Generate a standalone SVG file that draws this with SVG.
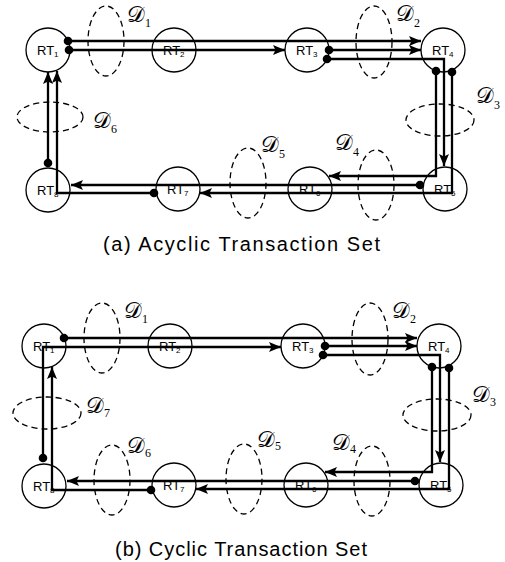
<svg xmlns="http://www.w3.org/2000/svg" width="505" height="562" viewBox="0 0 505 562">
<style>
  .bg { fill: #ffffff; }
  .node circle { fill: #ffffff; stroke: #000; stroke-width: 1.3; }
  .node text { font-family: "Liberation Sans", Arial, sans-serif; font-size: 13px; fill: #000; }
  .node text tspan.sub { font-size: 8px; }
  .dom { fill: none; stroke: #000; stroke-width: 1.3; stroke-dasharray: 6 4; }
  .dl { font-family: "DejaVu Serif", "DejaVu Sans", serif; font-size: 22px; fill: #000; }
  .dl tspan.sub { font-family: "Liberation Serif", "Times New Roman", serif; font-size: 12px; }
  .conn path { fill: none; stroke: #000; stroke-width: 2.3; marker-end: url(#arr); }
  .conn circle { fill: #000; }
  .cap { font-family: "Liberation Sans", Arial, sans-serif; font-size: 20px; fill: #000; }
</style>
<defs>
  <marker id="arr" markerUnits="userSpaceOnUse" markerWidth="13" markerHeight="11" refX="12" refY="5" orient="auto">
    <path d="M0,0 L12,5 L0,10 L2.5,5 z" fill="#000"/>
  </marker>
</defs>
<rect class="bg" x="0" y="0" width="505" height="562"/>

<!-- ===== (a) Acyclic ===== -->
<g id="a-domains">
  <ellipse class="dom" cx="106" cy="41" rx="18" ry="35"/>
  <ellipse class="dom" cx="374" cy="42" rx="18" ry="36"/>
  <ellipse class="dom" cx="440" cy="120" rx="34" ry="16"/>
  <ellipse class="dom" cx="376" cy="185" rx="18" ry="35"/>
  <ellipse class="dom" cx="248" cy="183" rx="18" ry="35"/>
  <ellipse class="dom" cx="50" cy="117" rx="33" ry="15"/>
  <text class="dl" x="127" y="22">𝒟<tspan class="sub" dy="5">1</tspan></text>
  <text class="dl" x="396" y="21">𝒟<tspan class="sub" dy="6">2</tspan></text>
  <text class="dl" x="476" y="103">𝒟<tspan class="sub" dy="6">3</tspan></text>
  <text class="dl" x="335" y="150">𝒟<tspan class="sub" dy="6">4</tspan></text>
  <text class="dl" x="261" y="152">𝒟<tspan class="sub" dy="6">5</tspan></text>
  <text class="dl" x="93" y="128">𝒟<tspan class="sub" dy="5">6</tspan></text>
</g>
<g id="a-RT1" class="node"><circle cx="48" cy="50" r="22"/><text x="37" y="55">RT<tspan class="sub" dy="2">1</tspan></text></g>
<g id="a-RT2" class="node"><circle cx="174" cy="50" r="22"/><text x="163" y="55">RT<tspan class="sub" dy="2">2</tspan></text></g>
<g id="a-RT3" class="node"><circle cx="307" cy="50" r="22"/><text x="296" y="55">RT<tspan class="sub" dy="2">3</tspan></text></g>
<g id="a-RT4" class="node"><circle cx="443" cy="50" r="22"/><text x="432" y="55">RT<tspan class="sub" dy="2">4</tspan></text></g>
<g id="a-RT5" class="node"><circle cx="445" cy="189" r="22"/><text x="434" y="194">RT<tspan class="sub" dy="2">5</tspan></text></g>
<g id="a-RT6" class="node"><circle cx="310" cy="189" r="22"/><text x="299" y="194">RT<tspan class="sub" dy="2">6</tspan></text></g>
<g id="a-RT7" class="node"><circle cx="178" cy="189" r="22"/><text x="167" y="194">RT<tspan class="sub" dy="2">7</tspan></text></g>
<g id="a-RT8" class="node"><circle cx="48" cy="190" r="22"/><text x="37" y="195">RT<tspan class="sub" dy="2">8</tspan></text></g>
<g id="a-connectors" class="conn">
  <path d="M68,41 H421"/>
  <path d="M69,50 H285"/>
  <path d="M329,50 H421"/>
  <path d="M327,59 H444 V166"/>
  <path d="M436,71 V176 H329"/>
  <path d="M452,71 V193 H200"/>
  <path d="M420,185 H71"/>
  <path d="M154,193 H57 V71"/>
  <path d="M48,163 V72"/>
  <circle cx="68" cy="41" r="4.3"/>
  <circle cx="69" cy="50" r="4.3"/>
  <circle cx="329" cy="50" r="4.3"/>
  <circle cx="327" cy="59" r="4.3"/>
  <circle cx="436" cy="71" r="4.3"/>
  <circle cx="452" cy="72" r="4.3"/>
  <circle cx="420" cy="185" r="4.3"/>
  <circle cx="154" cy="193" r="4.3"/>
  <circle cx="48" cy="163" r="4.3"/>
</g>
<text class="cap" x="103" y="251" textLength="277" lengthAdjust="spacing">(a) Acyclic Transaction Set</text>

<!-- ===== (b) Cyclic ===== -->
<g id="b-domains">
  <ellipse class="dom" cx="102" cy="338" rx="18" ry="35"/>
  <ellipse class="dom" cx="370" cy="339" rx="18" ry="36"/>
  <ellipse class="dom" cx="437" cy="415" rx="34" ry="16"/>
  <ellipse class="dom" cx="372" cy="481" rx="18" ry="35"/>
  <ellipse class="dom" cx="244" cy="479" rx="18" ry="35"/>
  <ellipse class="dom" cx="112" cy="480" rx="18" ry="35"/>
  <ellipse class="dom" cx="47" cy="413" rx="34" ry="16"/>
  <text class="dl" x="124" y="318">𝒟<tspan class="sub" dy="5">1</tspan></text>
  <text class="dl" x="392" y="318">𝒟<tspan class="sub" dy="5">2</tspan></text>
  <text class="dl" x="472" y="402">𝒟<tspan class="sub" dy="4">3</tspan></text>
  <text class="dl" x="332" y="450">𝒟<tspan class="sub" dy="3">4</tspan></text>
  <text class="dl" x="257" y="447">𝒟<tspan class="sub" dy="3">5</tspan></text>
  <text class="dl" x="127" y="453">𝒟<tspan class="sub" dy="4">6</tspan></text>
  <text class="dl" x="86" y="413">𝒟<tspan class="sub" dy="4">7</tspan></text>
</g>
<g id="b-RT1" class="node"><circle cx="44" cy="346" r="22"/><text x="33" y="351">RT<tspan class="sub" dy="2">1</tspan></text></g>
<g id="b-RT2" class="node"><circle cx="170" cy="346" r="22"/><text x="159" y="351">RT<tspan class="sub" dy="2">2</tspan></text></g>
<g id="b-RT3" class="node"><circle cx="303" cy="346" r="22"/><text x="292" y="351">RT<tspan class="sub" dy="2">3</tspan></text></g>
<g id="b-RT4" class="node"><circle cx="439" cy="346" r="22"/><text x="428" y="351">RT<tspan class="sub" dy="2">4</tspan></text></g>
<g id="b-RT5" class="node"><circle cx="441" cy="485" r="22"/><text x="430" y="490">RT<tspan class="sub" dy="2">5</tspan></text></g>
<g id="b-RT6" class="node"><circle cx="306" cy="485" r="22"/><text x="295" y="490">RT<tspan class="sub" dy="2">6</tspan></text></g>
<g id="b-RT7" class="node"><circle cx="174" cy="485" r="22"/><text x="163" y="490">RT<tspan class="sub" dy="2">7</tspan></text></g>
<g id="b-RT8" class="node"><circle cx="44" cy="486" r="22"/><text x="33" y="491">RT<tspan class="sub" dy="2">8</tspan></text></g>
<g id="b-connectors" class="conn">
  <path d="M64,338 H417"/>
  <path d="M43,458 V347 H281"/>
  <path d="M325,346 H417"/>
  <path d="M323,355 H440 V462"/>
  <path d="M432,367 V472 H325"/>
  <path d="M449,367 V489 H196"/>
  <path d="M415,481 H67"/>
  <path d="M151,490 H52 V367"/>
  <circle cx="64" cy="338" r="4.3"/>
  <circle cx="325" cy="346" r="4.3"/>
  <circle cx="323" cy="355" r="4.3"/>
  <circle cx="432" cy="367" r="4.3"/>
  <circle cx="449" cy="368" r="4.3"/>
  <circle cx="415" cy="481" r="4.3"/>
  <circle cx="151" cy="490" r="4.3"/>
  <circle cx="43" cy="458" r="4.3"/>
</g>
<text class="cap" x="115" y="556" textLength="252" lengthAdjust="spacing">(b) Cyclic Transaction Set</text>
</svg>
